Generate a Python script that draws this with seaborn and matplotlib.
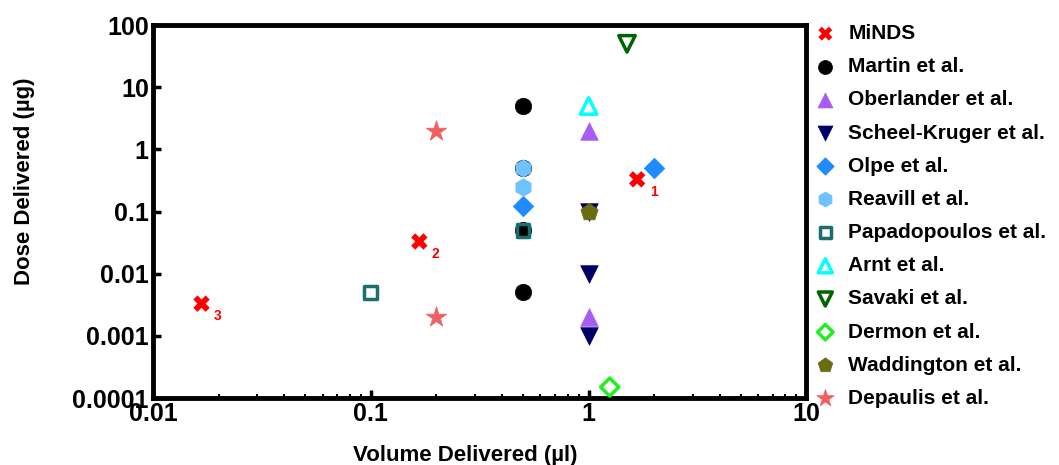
import matplotlib
matplotlib.use("Agg")
import matplotlib.pyplot as plt
import seaborn as sns
import pandas as pd
from matplotlib.ticker import FixedLocator, FixedFormatter, LogLocator, NullLocator

sns.set_theme(style="white")
plt.rcParams['font.family'] = ['Liberation Sans', 'DejaVu Sans']
plt.rcParams['font.weight'] = 'bold'
plt.rcParams['text.color'] = 'black'
plt.rcParams['axes.labelcolor'] = 'black'
plt.rcParams['xtick.color'] = 'black'
plt.rcParams['ytick.color'] = 'black'

# ---- data ----
studies = ["MiNDS", "Martin et al.", "Oberlander et al.", "Scheel-Kruger et al.",
           "Olpe et al.", "Reavill et al.", "Papadopoulos et al.", "Arnt et al.",
           "Savaki et al.", "Dermon et al.", "Waddington et al.", "Depaulis et al."]
minds_vol = [1.67, 0.167, 0.0167]
minds_dose = [0.33, 0.033, 0.0033]
minds_labels = ["1", "2", "3"]
martin_vol = [0.5, 0.5, 0.5, 0.5]
martin_dose = [5, 0.5, 0.05, 0.005]
oberlander_vol = [1, 1]
oberlander_dose = [2, 0.002]
scheel_vol = [1, 1, 1]
scheel_dose = [0.1, 0.01, 0.001]
olpe_vol = [2, 0.5]
olpe_dose = [0.5, 0.125]
reavill_vol = [0.5, 0.5]
reavill_dose = [0.5, 0.25]
papa_vol = [0.1, 0.5]
papa_dose = [0.005, 0.05]
arnt_vol = [1]
arnt_dose = [5]
savaki_vol = [1.5]
savaki_dose = [50]
dermon_vol = [1.25]
dermon_dose = [0.00015]
wadd_vol = [1]
wadd_dose = [0.1]
depaulis_vol = [0.2, 0.2]
depaulis_dose = [2, 0.002]

x_ticks = [0.01, 0.1, 1, 10]
x_ticklabels = ["0.01", "0.1", "1", "10"]
y_ticks = [0.0001, 0.001, 0.01, 0.1, 1, 10, 100]
y_ticklabels = ["0.0001", "0.001", "0.01", "0.1", "1", "10", "100"]

vols = [minds_vol, martin_vol, oberlander_vol, scheel_vol, olpe_vol, reavill_vol,
        papa_vol, arnt_vol, savaki_vol, dermon_vol, wadd_vol, depaulis_vol]
doses = [minds_dose, martin_dose, oberlander_dose, scheel_dose, olpe_dose, reavill_dose,
         papa_dose, arnt_dose, savaki_dose, dermon_dose, wadd_dose, depaulis_dose]

rows = []
for s, vs, ds in zip(studies, vols, doses):
    for v, d in zip(vs, ds):
        rows.append({"study": s, "volume": v, "dose": d})
df = pd.DataFrame(rows)

# ---- styles ----
styles = {
    "MiNDS":               dict(marker="X", color="#FF0000", fill=True,  s=140),
    "Martin et al.":       dict(marker="o", color="#000000", fill=True,  s=140),
    "Oberlander et al.":   dict(marker="^", color="#A95CF5", fill=True,  s=160),
    "Scheel-Kruger et al.":dict(marker="v", color="#000066", fill=True,  s=160),
    "Olpe et al.":         dict(marker="D", color="#1E8CFF", fill=True,  s=110),
    "Reavill et al.":      dict(marker="h", color="#6EC3FF", fill=True,  s=160),
    "Papadopoulos et al.": dict(marker="s", color="#1A6E6E", fill=False, s=85),
    "Arnt et al.":         dict(marker="^", color="#00FFFF", fill=False, s=140),
    "Savaki et al.":       dict(marker="v", color="#006400", fill=False, s=140),
    "Dermon et al.":       dict(marker="D", color="#22EE22", fill=False, s=85),
    "Waddington et al.":   dict(marker="p", color="#6B6B0F", fill=True,  s=170),
    "Depaulis et al.":     dict(marker="*", color="#F06060", fill=True,  s=240),
}

fig = plt.figure(figsize=(10.59, 4.65), dpi=100)
ax = fig.add_axes([0.1445, 0.144, 0.617, 0.802])

for s in studies:
    st = styles[s]
    sub = df[df.study == s]
    if s == "MiNDS":
        sns.scatterplot(data=sub, x="volume", y="dose", ax=ax, marker="X",
                        color=st["color"], s=st["s"], edgecolor="none",
                        linewidth=0, label=s, zorder=3)
    elif st["fill"]:
        sns.scatterplot(data=sub, x="volume", y="dose", ax=ax, marker=st["marker"],
                        color=st["color"], s=st["s"], edgecolor=st["color"],
                        linewidth=0.5, label=s, zorder=3)
    else:
        sns.scatterplot(data=sub, x="volume", y="dose", ax=ax, marker=st["marker"],
                        facecolor="none", edgecolor=st["color"], s=st["s"],
                        linewidth=2.5, label=s, zorder=3)

for v, d, lab in zip(minds_vol, minds_dose, minds_labels):
    ax.annotate(lab, xy=(v, d), xytext=(9, -12), textcoords="offset points",
                color="#FF0000", fontsize=10, fontweight="bold")

ax.set_xscale("log")
ax.set_yscale("log")
ax.set_xlim(0.01, 10)
ax.set_ylim(0.0001, 100)

ax.xaxis.set_major_locator(FixedLocator(x_ticks))
ax.xaxis.set_major_formatter(FixedFormatter(x_ticklabels))
ax.xaxis.set_minor_locator(LogLocator(base=10, subs=range(2, 10)))
ax.yaxis.set_major_locator(FixedLocator(y_ticks))
ax.yaxis.set_major_formatter(FixedFormatter(y_ticklabels))
ax.yaxis.set_minor_locator(NullLocator())

ax.tick_params(axis="both", which="major", direction="in", length=6, width=2.5,
               labelsize=18, pad=3, bottom=True, left=True)
ax.tick_params(axis="x", which="minor", direction="in", length=3, width=1.5, bottom=True)
for lbl in ax.get_xticklabels() + ax.get_yticklabels():
    lbl.set_fontweight("bold")

for sp in ax.spines.values():
    sp.set_visible(True)
    sp.set_linewidth(3.5)
    sp.set_color("black")

ax.set_xlabel("Volume Delivered (µl)", fontsize=16, fontweight="bold")
ax.set_ylabel("Dose Delivered (µg)", fontsize=16, fontweight="bold")
ax.xaxis.set_label_coords(0.478, -0.125)
ax.yaxis.set_label_coords(-0.18, 0.58)
ax.grid(False)

leg = ax.legend(loc="upper left", bbox_to_anchor=(0.997, 1.025), frameon=False,
                handletextpad=0.5, labelspacing=0.68, markerscale=0.85,
                borderaxespad=0.0, handlelength=1.2,
                prop={"weight": "bold", "size": 15})

fig.savefig("out.png", dpi=100)
